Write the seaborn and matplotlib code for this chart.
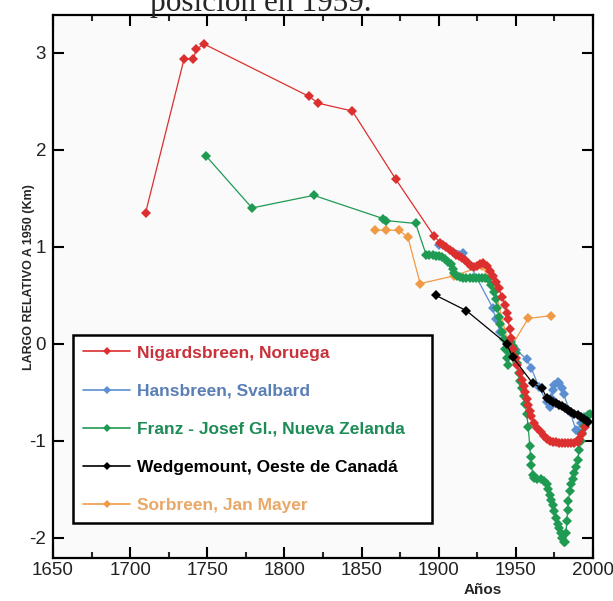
import matplotlib
matplotlib.use("Agg")
import matplotlib.pyplot as plt
import seaborn as sns
import pandas as pd
from matplotlib.lines import Line2D
from matplotlib.ticker import MultipleLocator

# ---------------- data ----------------
nig_years = [1710, 1735, 1741, 1743, 1748, 1816, 1822, 1844, 1872, 1897, 1901,
             1903, 1905, 1907, 1909, 1911, 1913, 1915, 1917, 1919, 1921, 1923, 1925,
             1927, 1929, 1931, 1933, 1935, 1937, 1939, 1941, 1943, 1944, 1945, 1946,
             1947, 1948, 1950, 1951, 1953, 1954, 1955, 1956, 1957, 1958, 1959, 1960,
             1962, 1964, 1966, 1968, 1970, 1972, 1974, 1976, 1978, 1980, 1982, 1984,
             1986, 1988, 1990, 1991, 1993, 1995]
nig_vals = [1.35, 2.94, 2.94, 3.04, 3.09, 2.55, 2.48, 2.40, 1.70, 1.11, 1.04,
            1.02, 1.00, 0.97, 0.95, 0.92, 0.90, 0.88, 0.86, 0.83, 0.80, 0.79, 0.80,
            0.82, 0.83, 0.80, 0.75, 0.70, 0.64, 0.57, 0.48, 0.40, 0.32, 0.25, 0.15,
            0.06, -0.05, -0.15, -0.22, -0.30, -0.37, -0.44, -0.50, -0.57, -0.63, -0.69, -0.75,
            -0.82, -0.87, -0.91, -0.95, -0.98, -1.00, -1.01, -1.01, -1.02, -1.02, -1.02, -1.02,
            -1.02, -1.02, -1.01, -0.98, -0.93, -0.86]

han_years = [1900, 1916, 1935, 1937, 1940, 1945, 1950, 1957, 1960, 1965, 1970, 1972,
             1973, 1974, 1975, 1977, 1978, 1980, 1981, 1985, 1989, 1990, 1992, 1994]
han_vals = [1.02, 0.94, 0.37, 0.25, 0.12, 0.00, -0.06, -0.16, -0.25, -0.45, -0.60, -0.65,
            -0.56, -0.48, -0.43, -0.40, -0.41, -0.46, -0.52, -0.70, -0.89, -0.90, -0.82, -0.76]

fj_years = [1749, 1779, 1819, 1864, 1866, 1885, 1892, 1894, 1896, 1898, 1900, 1902, 1904,
            1906, 1908, 1909, 1910, 1912, 1914, 1916, 1918, 1920, 1922, 1924, 1926, 1928,
            1930, 1932, 1934, 1936, 1937, 1938, 1939, 1940, 1941, 1942, 1943, 1944, 1945,
            1946, 1947, 1948, 1949, 1950, 1951, 1952, 1953, 1954, 1955, 1956, 1957, 1958,
            1959, 1959.5, 1960, 1961, 1962, 1964, 1966, 1968, 1970, 1971, 1972, 1973, 1974,
            1975, 1976, 1977, 1978, 1979, 1980, 1981, 1982, 1982.5, 1983, 1983.5, 1984, 1985,
            1986, 1987, 1988, 1989, 1990, 1991, 1992, 1993, 1994, 1995, 1996, 1997, 1998]
fj_vals = [1.94, 1.40, 1.53, 1.29, 1.27, 1.24, 0.91, 0.91, 0.91, 0.90, 0.90, 0.89, 0.87,
           0.84, 0.82, 0.77, 0.73, 0.70, 0.69, 0.68, 0.68, 0.68, 0.68, 0.68, 0.68, 0.68,
           0.68, 0.67, 0.61, 0.53, 0.46, 0.37, 0.28, 0.20, 0.12, 0.05, -0.05, -0.15, -0.22,
           -0.10, 0.02, -0.02, -0.05, -0.10, -0.20, -0.30, -0.38, -0.46, -0.54, -0.62, -0.72, -0.86,
           -1.05, -1.17, -1.25, -1.35, -1.39, -1.40, -1.40, -1.42, -1.45, -1.50, -1.56, -1.61, -1.66,
           -1.73, -1.80, -1.86, -1.90, -1.95, -2.00, -2.04, -2.05, -1.95, -1.83, -1.72, -1.62, -1.52,
           -1.45, -1.40, -1.33, -1.27, -1.20, -1.10, -1.00, -0.92, -0.85, -0.80, -0.76, -0.74, -0.72]

wed_years = [1898, 1918, 1944, 1948, 1961, 1967, 1970, 1972, 1974, 1976, 1978, 1980, 1982,
             1984, 1986, 1988, 1990, 1992, 1994, 1996, 1997]
wed_vals = [0.50, 0.34, 0.00, -0.14, -0.41, -0.46, -0.56, -0.58, -0.60, -0.61, -0.63, -0.64, -0.66,
            -0.68, -0.70, -0.72, -0.74, -0.76, -0.78, -0.80, -0.81]

sor_years = [1859, 1866, 1874, 1880, 1888, 1910, 1928, 1936, 1945, 1947, 1958, 1973]
sor_vals = [1.17, 1.17, 1.17, 1.10, 0.62, 0.70, 0.80, 0.59, 0.00, -0.03, 0.26, 0.29]

series_labels = ["Nigardsbreen, Noruega", "Hansbreen, Svalbard",
                 "Franz - Josef Gl., Nueva Zelanda", "Wedgemount, Oeste de Canadá",
                 "Sorbreen, Jan Mayer"]
x_ticks = [1650, 1700, 1750, 1800, 1850, 1900, 1950, 2000]
y_ticks = [-2, -1, 0, 1, 2, 3]

# ---------------- styling ----------------
line_colors = ["#dc2f2f", "#5b8fd2", "#1f9a52", "#000000", "#f19a45"]
text_colors = ["#c8323a", "#5a7fb5", "#1d8c56", "#000000", "#e9a868"]

sns.set_style("ticks")
plt.rcParams['font.family'] = ['Liberation Sans', 'DejaVu Sans']
plt.rcParams['axes.unicode_minus'] = False

fig = plt.figure(figsize=(6.13, 6.01), dpi=100)
ax = fig.add_axes([53 / 613, 1 - 558 / 601, 540 / 613, 543 / 601])
ax.set_facecolor("#fafafa")

frames = []
all_years = [nig_years, han_years, fj_years, wed_years, sor_years]
all_vals = [nig_vals, han_vals, fj_vals, wed_vals, sor_vals]
for yrs, vals, lab in zip(all_years, all_vals, series_labels):
    frames.append(pd.DataFrame({"year": yrs, "value": vals, "glaciar": lab}))

order = [4, 1, 2, 0, 3]
for i in order:
    sns.lineplot(data=frames[i], x="year", y="value", ax=ax, color=line_colors[i],
                 marker="D", markersize=5, markeredgewidth=0, linewidth=0.9,
                 sort=False, estimator=None, legend=False)

ax.set_xlim(1650, 2000)
ax.set_ylim(-2.21, 3.39)
ax.set_xticks(x_ticks)
ax.set_yticks(y_ticks)
ax.xaxis.set_minor_locator(MultipleLocator(25))
ax.tick_params(axis="both", which="major", direction="in", length=8, width=1.5,
               top=True, right=True, labelsize=13.5, colors="black")
ax.tick_params(axis="x", which="minor", direction="in", length=4, width=1.5,
               top=True, bottom=True)
ax.tick_params(axis="y", which="major", pad=5)
ax.tick_params(axis="x", which="major", pad=3)
for t in ax.get_xticklabels() + ax.get_yticklabels():
    t.set_color("#222222")
for sp in ax.spines.values():
    sp.set_visible(True)
    sp.set_linewidth(1.6)
    sp.set_color("black")

ax.set_xlabel("Años", fontsize=11, fontweight="bold")
ax.xaxis.set_label_coords(0.796, -0.046)
ax.set_ylabel("LARGO RELATIVO A 1950 (Km)", fontsize=9, fontweight="bold")
ax.yaxis.set_label_coords(-0.034, 0.517)

handles = [Line2D([0], [0], color=c, marker="D", markersize=4, markeredgewidth=0, linewidth=1.2)
           for c in line_colors]
leg = ax.legend(handles, series_labels, loc="upper left",
                bbox_to_anchor=(20 / 540, 33 / 543, 359 / 540, 190 / 543), mode="expand",
                borderaxespad=0, frameon=True, fancybox=False, framealpha=1,
                edgecolor="black", facecolor="white", handlelength=2.7,
                handletextpad=0.36, labelspacing=1.32, borderpad=0.6,
                prop={"weight": "bold", "size": 12.5})
leg.get_frame().set_linewidth(1.8)
leg.set_zorder(10)
for txt, c in zip(leg.get_texts(), text_colors):
    txt.set_color(c)

fig.text(150 / 613, 1 - 11 / 601, "posición en 1959.", fontsize=22.5,
         family=["Liberation Serif", "DejaVu Serif"], ha="left", va="baseline")

fig.savefig("out.png", dpi=100, facecolor="white")
